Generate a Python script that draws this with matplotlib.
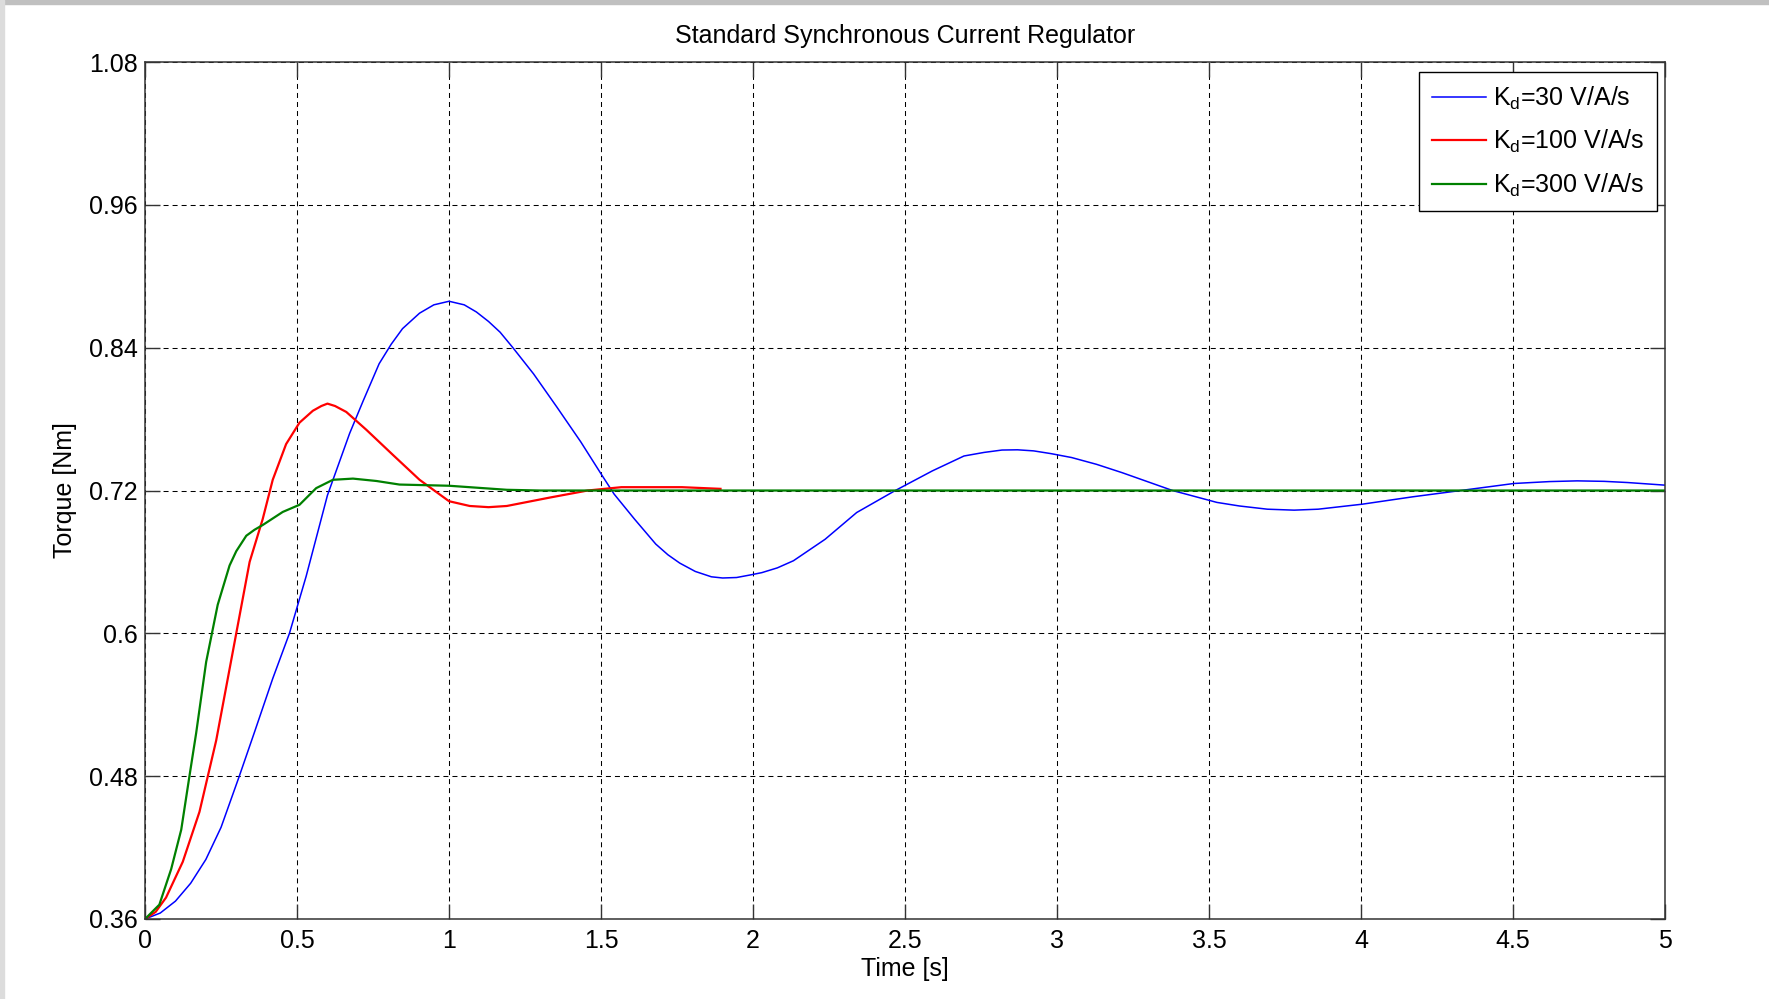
import numpy as np
import matplotlib
matplotlib.use('Agg')
import matplotlib.pyplot as plt
from matplotlib.patches import Rectangle

plt.rcParams['font.family'] = ['Liberation Sans', 'DejaVu Sans']
plt.rcParams['mathtext.default'] = 'regular'
plt.rcParams['lines.scale_dashes'] = False

# values (time [s], torque [Nm])
t_kd30 = [0, 0.05, 0.1, 0.15, 0.2, 0.25, 0.31, 0.36, 0.42, 0.475, 0.53, 0.6, 0.673,
          0.717, 0.77, 0.81, 0.847, 0.903, 0.95, 1.0, 1.05, 1.09, 1.13, 1.168, 1.21,
          1.278, 1.355, 1.433, 1.5, 1.543, 1.61, 1.68, 1.72, 1.759, 1.81, 1.863, 1.9,
          1.946, 1.99, 2.029, 2.08, 2.133, 2.237, 2.341, 2.466, 2.59, 2.694, 2.76,
          2.819, 2.87, 2.923, 2.98, 3.048, 3.13, 3.214, 3.38, 3.526, 3.6, 3.692, 3.78,
          3.859, 4.004, 4.17, 4.337, 4.503, 4.62, 4.711, 4.8, 4.877, 5.0]
T_kd30 = [0.36, 0.365, 0.375, 0.39, 0.41, 0.437, 0.48, 0.517, 0.562, 0.6, 0.648, 0.716,
          0.768, 0.795, 0.8265, 0.843, 0.856, 0.869, 0.876, 0.879, 0.876, 0.870, 0.862,
          0.853, 0.84, 0.818, 0.790, 0.761, 0.734, 0.717, 0.696, 0.675, 0.666, 0.659,
          0.652, 0.6475, 0.6465, 0.6469, 0.649, 0.651, 0.655, 0.661, 0.679, 0.7015,
          0.7197, 0.7365, 0.749, 0.752, 0.754, 0.7542, 0.7533, 0.751, 0.7477, 0.742,
          0.735, 0.72, 0.710, 0.707, 0.7043, 0.7035, 0.7043, 0.7085, 0.7147, 0.7203,
          0.7259, 0.7275, 0.7281, 0.7277, 0.7267, 0.7245]

t_kd100 = [0, 0.035, 0.069, 0.124, 0.179, 0.234, 0.289, 0.344, 0.387, 0.42, 0.464, 0.508,
           0.552, 0.58, 0.6, 0.625, 0.662, 0.728, 0.815, 0.903, 1.0, 1.068, 1.13, 1.19,
           1.33, 1.456, 1.567, 1.766, 1.893]
T_kd100 = [0.36, 0.366, 0.378, 0.408, 0.45, 0.51, 0.585, 0.66, 0.696, 0.729, 0.759, 0.777,
           0.787, 0.791, 0.793, 0.791, 0.786, 0.771, 0.75, 0.729, 0.711, 0.707, 0.706,
           0.707, 0.714, 0.72, 0.7228, 0.7228, 0.7214]

t_kd300 = [0, 0.047, 0.086, 0.119, 0.146, 0.168, 0.201, 0.239, 0.278, 0.3, 0.333, 0.36,
           0.387, 0.453, 0.508, 0.563, 0.618, 0.684, 0.761, 0.837, 1.0, 1.19, 1.3, 5.0]
T_kd300 = [0.36, 0.372, 0.402, 0.435, 0.48, 0.516, 0.576, 0.624, 0.657, 0.669, 0.682,
           0.687, 0.691, 0.702, 0.708, 0.722, 0.729, 0.730, 0.728, 0.725, 0.724, 0.7206,
           0.72, 0.72]

xticks = [0, 0.5, 1, 1.5, 2, 2.5, 3, 3.5, 4, 4.5, 5]
yticks = [0.36, 0.48, 0.6, 0.72, 0.84, 0.96, 1.08]
ytick_labels = ['0.36', '0.48', '0.6', '0.72', '0.84', '0.96', '1.08']

fig = plt.figure(figsize=(17.69, 9.99), dpi=100)
ax = fig.add_axes([0.0820, 0.0801, 0.8592, 0.8578])

ax.plot(t_kd30, T_kd30, color=(0, 0, 1), lw=1.1, label='K$_d$=30 V/A/s')
ax.plot(t_kd100, T_kd100, color=(1, 0, 0), lw=1.6, label='K$_d$=100 V/A/s')
ax.plot(t_kd300, T_kd300, color=(0, 0.5, 0), lw=1.6, label='K$_d$=300 V/A/s')

ax.set_xlim(0, 5)
ax.set_ylim(0.36, 1.08)
ax.set_xticks(xticks)
ax.set_xticklabels([f'{v:g}' for v in xticks])
ax.set_yticks(yticks)
ax.set_yticklabels(ytick_labels)

ax.grid(True, color='black', linestyle=(0, (3.6, 2.9)), linewidth=0.75)
ax.tick_params(direction='in', length=11, width=1, top=True, right=True,
               labelsize=18, colors='#333333', labelcolor='black')
ax.tick_params(axis='x', pad=7)
ax.tick_params(axis='y', pad=5)
for s in ax.spines.values():
    s.set_color('#333333')
    s.set_linewidth(1.1)

ax.set_title('Standard Synchronous Current Regulator', fontsize=18, pad=13.5)
ax.set_xlabel('Time [s]', fontsize=18, labelpad=3)
ax.set_ylabel('Torque [Nm]', fontsize=18, labelpad=8.5)

leg = ax.legend(loc='upper right', bbox_to_anchor=(1 - 8 / 1520, 1 - 10 / 857),
                borderaxespad=0, fontsize=18, fancybox=False, framealpha=1,
                edgecolor='black', handlelength=2.15, handletextpad=0.3,
                labelspacing=0.65, borderpad=0.5)
leg.get_frame().set_linewidth(1.0)

# grey window border along top and left
fig.patches.append(Rectangle((0, 1 - 4 / 999), 1, 4 / 999, transform=fig.transFigure,
                             color='#c0c0c0', zorder=0))
fig.patches.append(Rectangle((0, 0), 4 / 1769, 1, transform=fig.transFigure,
                             color='#dcdcdc', zorder=0))

fig.savefig('out.png', dpi=100)
